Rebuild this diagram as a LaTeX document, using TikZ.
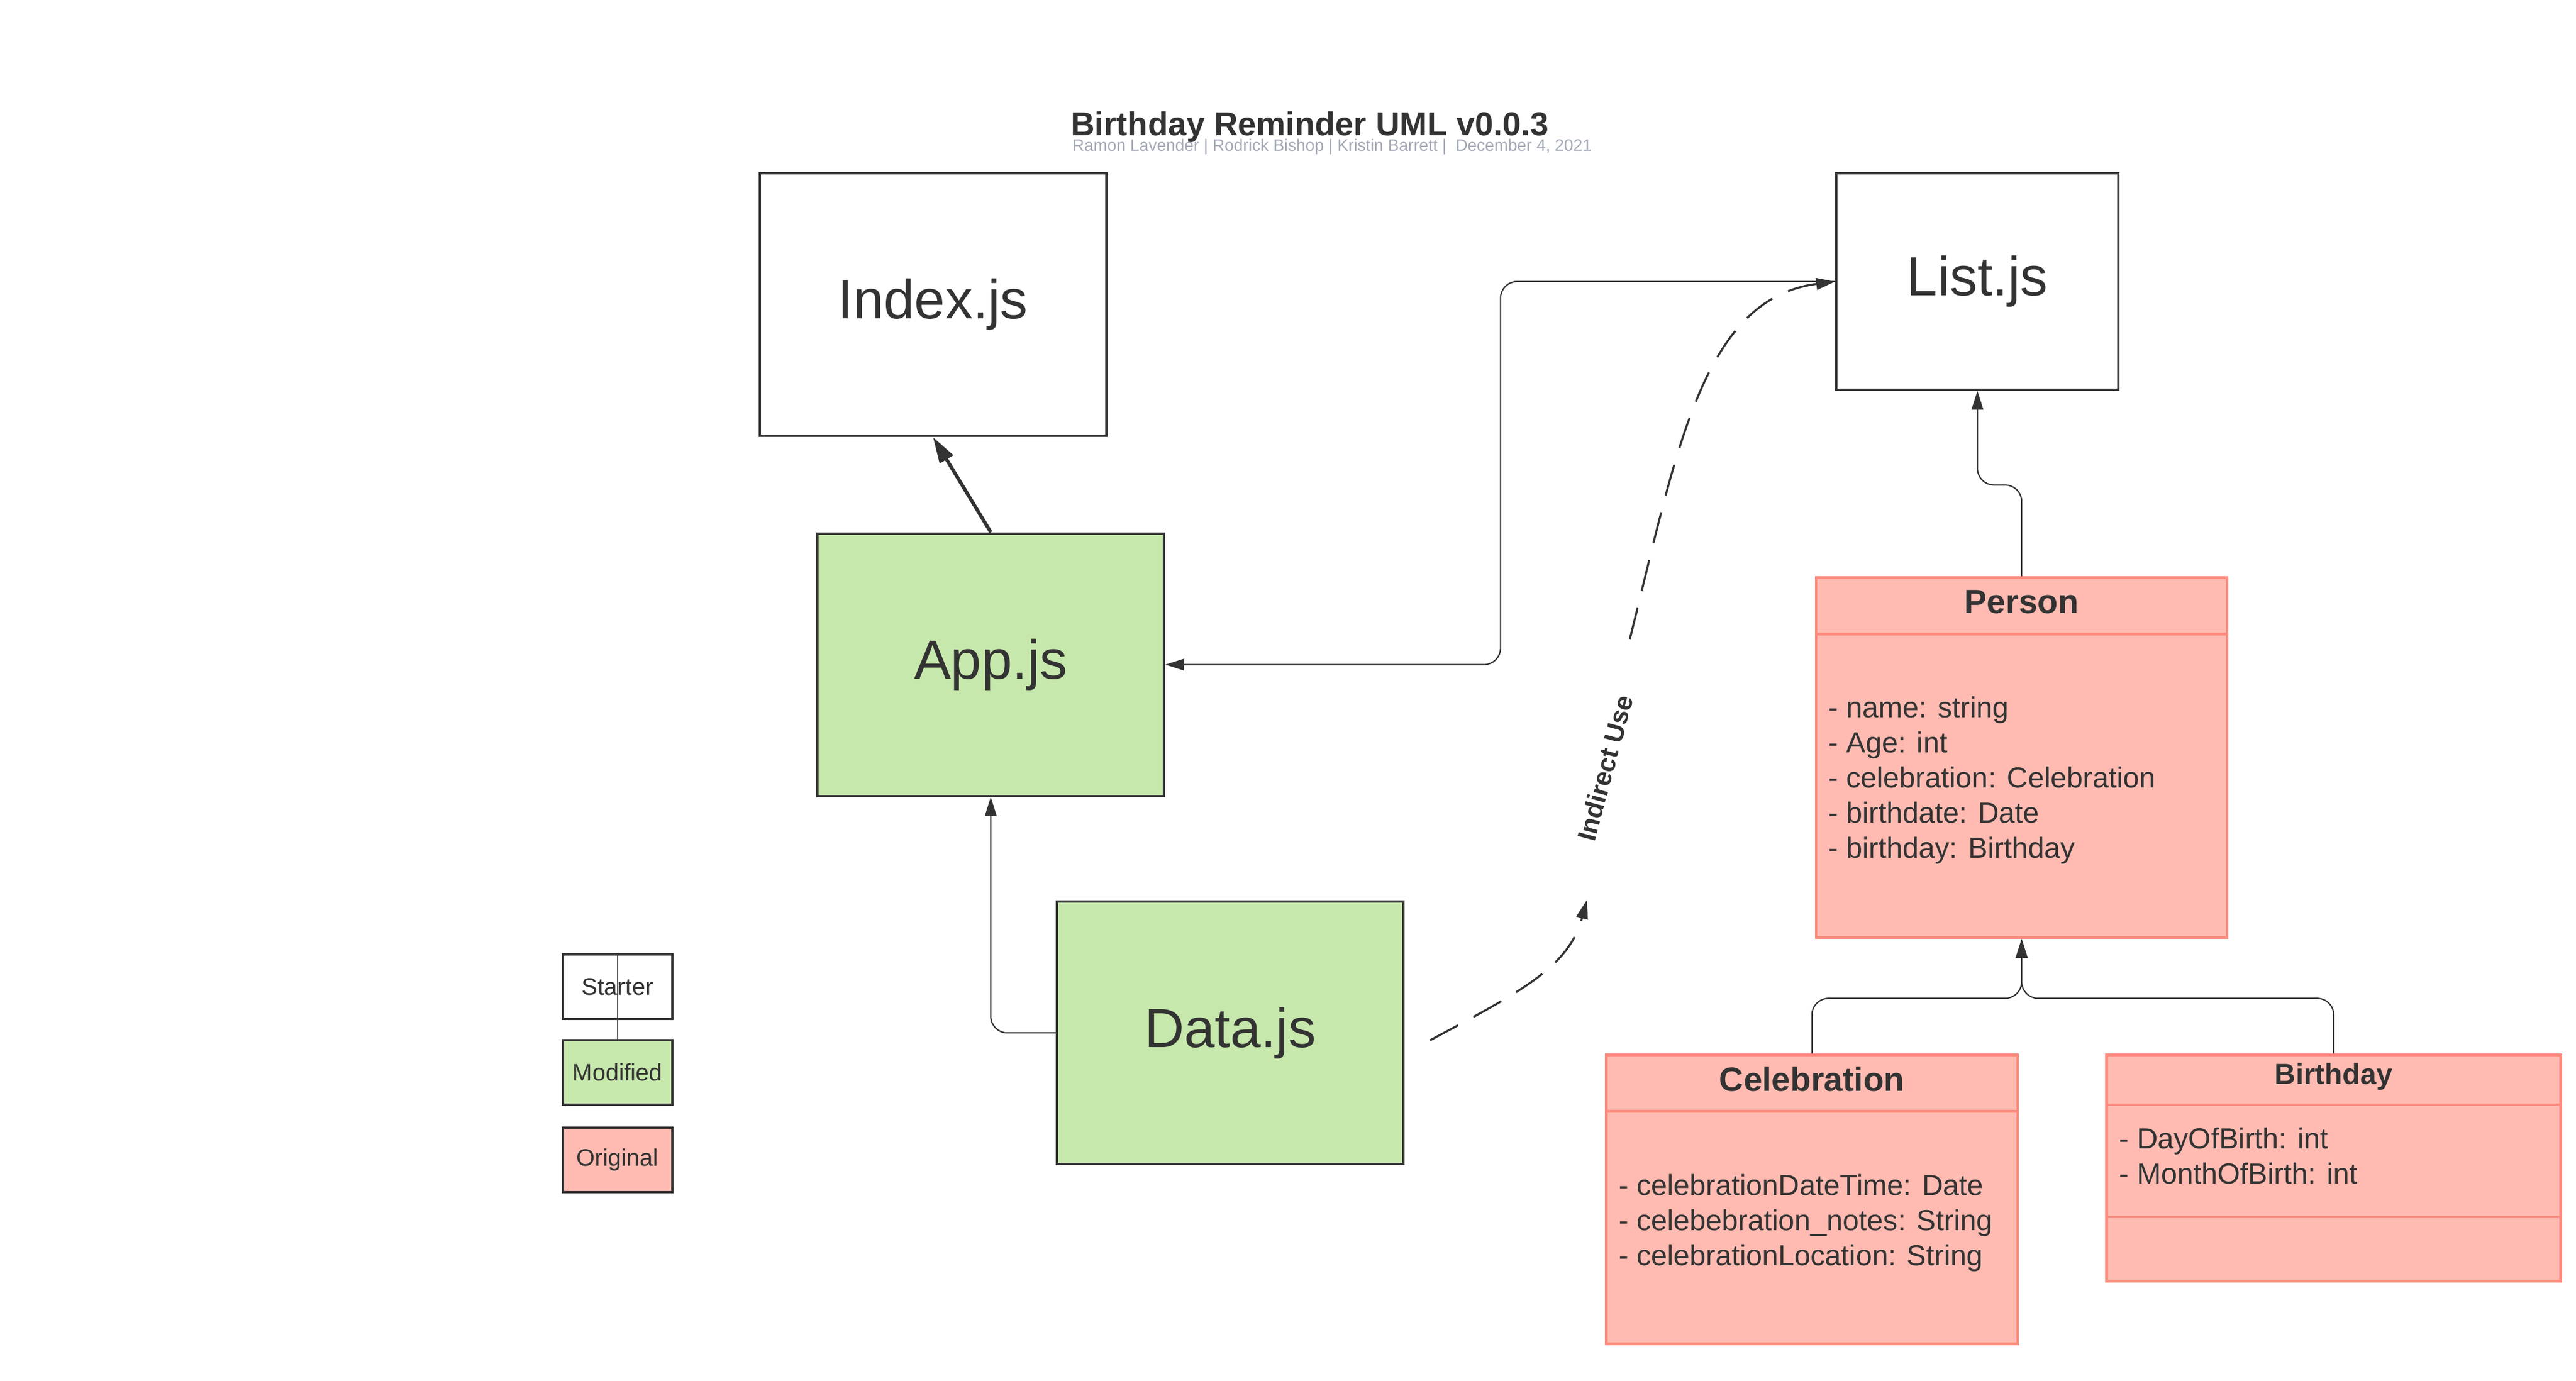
\documentclass[tikz,border=0pt]{standalone}
\usepackage{fontspec}
\setmainfont{Liberation Sans}
\usepackage{tikz}
\usetikzlibrary{arrows.meta,calc}
\definecolor{ink}{HTML}{333333}
\definecolor{subgray}{HTML}{A3A9B5}
\definecolor{modgreen}{HTML}{C7E8AC}
\definecolor{origred}{HTML}{FFBBB1}
\definecolor{origline}{HTML}{FA8A7E}

\begin{document}
\begin{tikzpicture}[->,>={Triangle[length=6.5pt,width=4pt]},line width=0.45pt,
                    color=ink,text=ink]
  \tikzstyle{file}=[rectangle,draw=ink,line width=0.8pt,minimum width=4.2cm,
                    minimum height=3.18cm,inner sep=0pt,font=\fontsize{19}{23}\selectfont]
  \tikzstyle{klass}=[rectangle,draw=origline,fill=origred,line width=0.9pt,
                     inner sep=0pt,anchor=north west]
  \tikzstyle{kname}=[inner sep=0pt,font=\fontsize{11.6}{14}\selectfont\bfseries]
  \tikzstyle{attrs}=[inner sep=0pt,anchor=west,align=left,font=\fontsize{10}{12.1}\selectfont]
  \tikzstyle{key}=[rectangle,draw=ink,line width=0.8pt,minimum width=1.32cm,
                   minimum height=0.78cm,inner sep=0pt,font=\fontsize{8.2}{10}\selectfont]
  \tikzstyle{uses}=[dash pattern=on 11pt off 6pt,line width=0.7pt]

  \useasboundingbox (0,0) rectangle (31.2,16.72);

  % title
  \node[inner sep=0pt,anchor=west,font=\fontsize{11.4}{13}\selectfont\bfseries]
    (title) at (12.96,15.18) {Birthday Reminder UML v0.0.3};
  \node[inner sep=0pt,anchor=west,text=subgray,font=\fontsize{5.7}{7}\selectfont]
    (authors) at (12.98,14.94) {Ramon Lavender | Rodrick Bishop | Kristin Barrett | \ December 4, 2021};

  % files
  \node[file] (Index) at (11.30,13.03) {Index.js};
  \node[file,minimum width=3.42cm,minimum height=2.62cm] (List) at (23.95,13.31) {List.js};
  \node[file,fill=modgreen] (App)  at (12.00,8.67) {App.js};
  \node[file,fill=modgreen] (Data) at (14.90,4.21) {Data.js};

  % classes
  \node[klass,minimum width=4.98cm,minimum height=4.36cm] (Person) at (21.98,9.74) {};
  \draw[-,origline,line width=0.9pt] ([yshift=-0.70cm]Person.north west) -- ([yshift=-0.70cm]Person.north east);
  \node[kname] (PersonName) at ([yshift=-0.31cm]Person.north) {Person};
  \node[attrs] (PersonAttr) at (22.14,7.27)
    {- name: string\\- Age: int\\- celebration: Celebration\\- birthdate: Date\\- birthday: Birthday};

  \node[klass,minimum width=4.98cm,minimum height=3.50cm] (Celebration) at (19.44,3.96) {};
  \draw[-,origline,line width=0.9pt] ([yshift=-0.70cm]Celebration.north west) -- ([yshift=-0.70cm]Celebration.north east);
  \node[kname] (CelebrationName) at ([yshift=-0.31cm]Celebration.north) {Celebration};
  \node[attrs] (CelebrationAttr) at (19.60,1.91)
    {- celebrationDateTime: Date\\- celebebration\_notes: String\\- celebrationLocation: String};

  \node[klass,minimum width=5.50cm,minimum height=2.74cm] (Birthday) at (25.50,3.96) {};
  \draw[-,origline,line width=0.9pt] ([yshift=-0.62cm]Birthday.north west) -- ([yshift=-0.62cm]Birthday.north east);
  \draw[-,origline,line width=0.9pt] ([yshift=-1.98cm]Birthday.north west) -- ([yshift=-1.98cm]Birthday.north east);
  \node[kname,font=\fontsize{10}{12}\selectfont\bfseries] (BirthdayName) at ([yshift=-0.28cm]Birthday.north) {Birthday};
  \node[attrs] (BirthdayAttr) at (25.66,2.72) {- DayOfBirth: int\\- MonthOfBirth: int};

  % legend
  \node[key,fill=white]    (Starter)  at (7.48,4.77) {Starter};
  \node[key,fill=modgreen] (Modified) at (7.48,3.73) {Modified};
  \node[key,fill=origred]  (Original) at (7.48,2.67) {Original};
  \draw[-] (Starter.north) -- (Modified.north);

  % links
  \draw[-{Triangle[length=9pt,width=5.2pt]},line width=1.2pt] (App.north) -- (Index.south);
  \draw[rounded corners=0.2cm] (Data.west) -| (App.south);
  \draw[rounded corners=0.2cm] (List.west) -| ([xshift=4.06cm]App.east) -- (App.east);
  \draw[rounded corners=0.2cm] (Person.north) |- ([yshift=-1.14cm]List.south) -- (List.south);
  \draw[rounded corners=0.2cm] (Celebration.north) |- ([yshift=-0.72cm]Person.south) -- (Person.south);
  \draw[rounded corners=0.2cm] (Birthday.north) |- ([yshift=-0.72cm]Person.south) -- (Person.south);

  % indirect use
  \coordinate (dataOut) at (17.32,4.12);
  \coordinate (useIn)   at (19.22,5.82);
  \coordinate (useOut)  at (19.74,8.98);
  \draw[uses] (dataOut) .. controls (18.4,4.7) and (19.0,5.0) .. (useIn);
  \draw[uses] (useOut) .. controls (20.3,11.2) and (20.6,13.1) .. (List.west);
  \node[rotate=75,inner sep=0pt,font=\fontsize{9}{11}\selectfont\bfseries] (useLabel) at (19.44,7.42) {Indirect Use};
\end{tikzpicture}
\end{document}
